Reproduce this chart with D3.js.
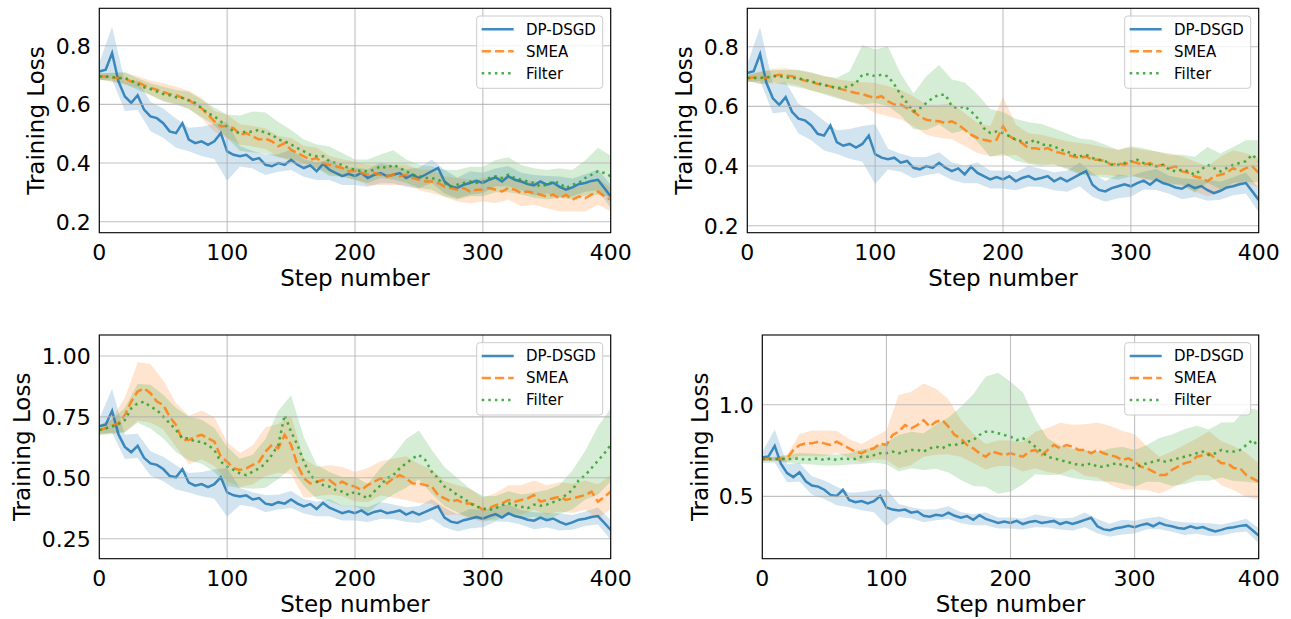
<!DOCTYPE html>
<html><head><meta charset="utf-8">
<script src="https://cdn.jsdelivr.net/npm/d3@7"></script>
<style>body{margin:0;background:#fff}svg{display:block}text{font-family:"DejaVu Sans",sans-serif}</style>
</head><body>
<svg id="chart" width="1291" height="619"></svg>
<script>
// ---------- data (mean every 5 steps, band half-width every 10 steps) ----------
const STEP = 5, BAND_STEP = 10;
const seriesNames = ["DP-DSGD", "SMEA", "Filter"];
const xTicks = [0, 100, 200, 300, 400];

const dpdsgd = [0.712,0.718,0.775,0.678,0.627,0.605,0.631,0.582,0.559,0.553,
 0.536,0.508,0.502,0.536,0.480,0.468,0.474,0.462,0.474,0.502,
 0.440,0.428,0.423,0.428,0.411,0.417,0.394,0.389,0.400,0.394,
 0.411,0.394,0.383,0.392,0.372,0.397,0.377,0.366,0.355,0.363,
 0.355,0.366,0.349,0.360,0.366,0.355,0.360,0.366,0.349,0.360,
 0.349,0.360,0.372,0.383,0.337,0.320,0.315,0.326,0.332,0.339,
 0.332,0.343,0.351,0.337,0.355,0.343,0.337,0.328,0.324,0.337,
 0.326,0.333,0.319,0.309,0.317,0.328,0.332,0.339,0.343,0.315,
 0.286];
const dpdsgdBand = [0.03,0.09,0.05,0.05,0.05,0.05,0.05,0.04,0.05,0.06,
 0.10,0.035,0.03,0.035,0.03,0.035,0.03,0.03,0.035,0.03,
 0.03,0.03,0.035,0.03,0.03,0.035,0.04,0.04,0.035,0.04,
 0.035,0.03,0.035,0.03,0.035,0.03,0.035,0.03,0.03,0.035,0.04];

// Panel 1
const smea1 = [0.695,0.695,0.692,0.690,0.687,0.678,0.676,0.665,0.656,0.650,
 0.642,0.635,0.631,0.622,0.616,0.599,0.587,0.565,0.542,0.525,
 0.525,0.519,0.497,0.502,0.491,0.480,0.483,0.474,0.457,0.468,
 0.445,0.434,0.423,0.411,0.417,0.400,0.394,0.389,0.383,0.372,
 0.374,0.366,0.360,0.366,0.360,0.355,0.360,0.355,0.360,0.349,
 0.343,0.337,0.337,0.332,0.320,0.315,0.309,0.315,0.303,0.309,
 0.309,0.315,0.309,0.303,0.315,0.309,0.298,0.303,0.298,0.292,
 0.286,0.292,0.280,0.292,0.275,0.286,0.280,0.292,0.303,0.286,
 0.275];
const filter1 = [0.695,0.695,0.693,0.690,0.690,0.681,0.669,0.658,0.652,0.644,
 0.635,0.631,0.624,0.622,0.613,0.605,0.587,0.570,0.559,0.542,
 0.525,0.508,0.502,0.508,0.506,0.514,0.502,0.497,0.480,0.474,
 0.463,0.451,0.440,0.428,0.423,0.423,0.406,0.400,0.394,0.383,
 0.377,0.372,0.372,0.377,0.389,0.383,0.394,0.383,0.372,0.360,
 0.355,0.349,0.349,0.343,0.332,0.320,0.326,0.332,0.337,0.332,
 0.337,0.349,0.355,0.349,0.360,0.349,0.343,0.337,0.332,0.320,
 0.326,0.337,0.332,0.315,0.326,0.332,0.349,0.360,0.372,0.366,
 0.355];
const smea1Band = [0.01,0.015,0.02,0.02,0.025,0.03,0.03,0.03,0.035,0.035,
 0.04,0.035,0.035,0.035,0.035,0.04,0.035,0.035,0.03,0.03,
 0.03,0.035,0.035,0.035,0.035,0.035,0.04,0.035,0.04,0.04,
 0.04,0.045,0.04,0.045,0.04,0.04,0.045,0.04,0.045,0.045,0.04];
const filter1Band = [0.01,0.015,0.02,0.02,0.02,0.025,0.025,0.03,0.03,0.03,
 0.04,0.06,0.07,0.07,0.06,0.05,0.04,0.04,0.05,0.04,
 0.035,0.04,0.04,0.05,0.04,0.04,0.04,0.045,0.05,0.05,
 0.05,0.055,0.06,0.05,0.05,0.05,0.05,0.05,0.06,0.08,0.07];

// Panel 2
const smea2 = [0.695,0.697,0.697,0.695,0.701,0.706,0.703,0.701,0.695,0.686,
 0.682,0.675,0.673,0.667,0.661,0.656,0.650,0.645,0.641,0.634,
 0.628,0.634,0.617,0.606,0.606,0.594,0.583,0.566,0.555,0.552,
 0.550,0.544,0.550,0.539,0.522,0.505,0.494,0.488,0.483,0.488,
 0.533,0.500,0.488,0.477,0.460,0.460,0.455,0.460,0.449,0.444,
 0.438,0.432,0.427,0.432,0.421,0.421,0.416,0.404,0.410,0.404,
 0.416,0.410,0.404,0.410,0.399,0.404,0.393,0.399,0.382,0.377,
 0.365,0.360,0.349,0.365,0.371,0.377,0.393,0.382,0.393,0.399,
 0.377];
const filter2 = [0.695,0.695,0.695,0.697,0.701,0.701,0.697,0.695,0.693,0.690,
 0.684,0.678,0.671,0.667,0.661,0.663,0.667,0.678,0.706,0.708,
 0.701,0.706,0.701,0.673,0.639,0.611,0.583,0.594,0.611,0.628,
 0.639,0.639,0.600,0.594,0.600,0.583,0.561,0.527,0.511,0.516,
 0.511,0.500,0.488,0.483,0.477,0.488,0.471,0.471,0.466,0.455,
 0.449,0.438,0.432,0.438,0.427,0.421,0.416,0.404,0.404,0.410,
 0.416,0.421,0.410,0.404,0.399,0.404,0.388,0.382,0.388,0.382,
 0.371,0.388,0.404,0.393,0.382,0.393,0.404,0.410,0.416,0.438,
 0.416];
const smea2Band = [0.01,0.02,0.025,0.025,0.025,0.03,0.03,0.03,0.035,0.04,
 0.05,0.05,0.05,0.05,0.05,0.055,0.06,0.055,0.05,0.05,
 0.1,0.05,0.05,0.05,0.045,0.045,0.05,0.05,0.045,0.045,
 0.045,0.05,0.05,0.05,0.05,0.05,0.05,0.06,0.06,0.05,0.05];
const filter2Band = [0.01,0.02,0.02,0.025,0.03,0.03,0.03,0.035,0.05,0.1,
 0.09,0.1,0.07,0.06,0.09,0.1,0.09,0.08,0.08,0.08,
 0.07,0.07,0.07,0.07,0.06,0.06,0.06,0.06,0.055,0.05,
 0.05,0.05,0.05,0.05,0.05,0.06,0.06,0.06,0.06,0.07,0.07];

// Panel 3
const smea3 = [0.696,0.703,0.714,0.724,0.758,0.813,0.854,0.867,0.847,0.813,
 0.799,0.751,0.717,0.655,0.655,0.669,0.676,0.662,0.648,0.587,
 0.566,0.539,0.532,0.539,0.553,0.566,0.607,0.635,0.621,0.676,
 0.635,0.553,0.498,0.477,0.484,0.491,0.491,0.470,0.484,0.470,
 0.464,0.450,0.470,0.484,0.498,0.477,0.498,0.511,0.498,0.477,
 0.477,0.470,0.464,0.429,0.416,0.402,0.409,0.395,0.395,0.388,
 0.368,0.375,0.388,0.395,0.409,0.402,0.409,0.416,0.429,0.402,
 0.409,0.416,0.422,0.409,0.416,0.422,0.429,0.443,0.402,0.422,
 0.443];
const filter3 = [0.696,0.703,0.710,0.720,0.737,0.785,0.806,0.812,0.792,0.778,
 0.751,0.724,0.696,0.662,0.662,0.648,0.648,0.635,0.614,0.566,
 0.546,0.532,0.518,0.511,0.525,0.539,0.559,0.594,0.635,0.758,
 0.689,0.635,0.566,0.511,0.484,0.470,0.464,0.450,0.443,0.429,
 0.443,0.429,0.416,0.443,0.470,0.498,0.511,0.539,0.559,0.580,
 0.594,0.573,0.525,0.498,0.464,0.450,0.429,0.416,0.395,0.381,
 0.375,0.368,0.375,0.388,0.395,0.388,0.381,0.375,0.390,0.385,
 0.390,0.400,0.410,0.430,0.450,0.490,0.510,0.540,0.570,0.600,
 0.635];
const smea3Band = [0.02,0.03,0.07,0.12,0.12,0.1,0.09,0.1,0.1,0.1,
 0.08,0.07,0.08,0.1,0.1,0.12,0.08,0.06,0.06,0.06,
 0.06,0.07,0.07,0.08,0.09,0.08,0.07,0.07,0.06,0.06,
 0.05,0.05,0.06,0.06,0.06,0.06,0.06,0.06,0.06,0.07,0.07];
const filter3Band = [0.02,0.03,0.05,0.08,0.09,0.09,0.09,0.09,0.09,0.09,
 0.08,0.06,0.07,0.1,0.14,0.15,0.1,0.07,0.06,0.06,
 0.06,0.06,0.07,0.08,0.1,0.1,0.09,0.08,0.07,0.06,
 0.05,0.05,0.05,0.05,0.05,0.06,0.06,0.08,0.1,0.14,0.15];

// Panel 4
const smea4 = [0.704,0.704,0.704,0.704,0.707,0.753,0.780,0.789,0.789,0.798,
 0.789,0.780,0.798,0.780,0.762,0.744,0.735,0.753,0.762,0.789,
 0.780,0.835,0.853,0.889,0.871,0.889,0.916,0.880,0.907,0.916,
 0.880,0.835,0.816,0.780,0.762,0.735,0.716,0.744,0.735,0.725,
 0.735,0.725,0.716,0.744,0.753,0.725,0.753,0.780,0.762,0.780,
 0.771,0.753,0.753,0.735,0.753,0.735,0.725,0.716,0.698,0.707,
 0.689,0.662,0.653,0.635,0.616,0.616,0.644,0.662,0.680,0.689,
 0.716,0.725,0.735,0.707,0.680,0.680,0.653,0.653,0.616,0.598,
 0.580];
const filter4 = [0.704,0.704,0.704,0.704,0.704,0.704,0.707,0.698,0.704,0.707,
 0.698,0.707,0.698,0.707,0.704,0.704,0.716,0.716,0.725,0.735,
 0.735,0.744,0.735,0.744,0.753,0.753,0.744,0.762,0.771,0.762,
 0.780,0.780,0.789,0.798,0.807,0.835,0.853,0.853,0.844,0.835,
 0.825,0.807,0.816,0.798,0.771,0.744,0.716,0.707,0.698,0.689,
 0.680,0.671,0.671,0.680,0.662,0.662,0.671,0.680,0.671,0.662,
 0.653,0.671,0.680,0.689,0.698,0.689,0.698,0.707,0.716,0.725,
 0.735,0.744,0.725,0.735,0.753,0.744,0.744,0.753,0.780,0.807,
 0.771];
const smea4Band = [0.01,0.01,0.02,0.06,0.07,0.07,0.06,0.05,0.05,0.06,
 0.08,0.2,0.2,0.2,0.18,0.15,0.1,0.08,0.07,0.07,
 0.07,0.08,0.1,0.12,0.14,0.12,0.14,0.15,0.16,0.16,
 0.15,0.12,0.1,0.1,0.1,0.1,0.12,0.12,0.12,0.12,0.1];
const filter4Band = [0.01,0.01,0.02,0.03,0.03,0.03,0.03,0.03,0.04,0.04,
 0.06,0.1,0.1,0.1,0.12,0.15,0.2,0.25,0.3,0.33,
 0.3,0.25,0.15,0.1,0.08,0.08,0.08,0.08,0.09,0.1,
 0.1,0.1,0.12,0.14,0.15,0.15,0.14,0.15,0.16,0.2,0.2];

const yTicks1 = [0.2, 0.4, 0.6, 0.8];
const yTicks3 = [0.25, 0.50, 0.75, 1.00];
const yTicks4 = [0.5, 1.0];

// ---------- layout ----------
const colors = ["#1f77b4", "#ff7f0e", "#2ca02c"];
const dashes = [null, "9.25,4", "2.5,4.1"];
const panels = [
  {means:[dpdsgd,smea1,filter1], bands:[dpdsgdBand,smea1Band,filter1Band], y:[0.1625,0.9275], ticks:yTicks1, fmt:".1f",
   box:{l:99.3,r:610.7,t:8.3,b:232.7}, ylabX:36},
  {means:[dpdsgd,smea2,filter2], bands:[dpdsgdBand,smea2Band,filter2Band], y:[0.1765,0.9287], ticks:yTicks1, fmt:".1f",
   box:{l:747.3,r:1258.7,t:8.3,b:232.7}, ylabX:684},
  {means:[dpdsgd,smea3,filter3], bands:[dpdsgdBand,smea3Band,filter3Band], y:[0.168,1.086], ticks:yTicks3, fmt:".2f",
   box:{l:99.3,r:610.7,t:335,b:558.7}, ylabX:22},
  {means:[dpdsgd,smea4,filter4], bands:[dpdsgdBand,smea4Band,filter4Band], y:[0.160,1.380], ticks:yTicks4, fmt:".1f",
   box:{l:762.3,r:1258.7,t:335,b:558.7}, ylabX:700}
];

const svg = d3.select("#chart");
const defs = svg.append("defs");

panels.forEach((p, pi) => {
  const B = p.box;
  const x = d3.scaleLinear().domain([0, 400]).range([B.l, B.r]);
  const y = d3.scaleLinear().domain(p.y).range([B.b, B.t]);
  const g = svg.append("g");
  const clipId = "clip" + pi;
  defs.append("clipPath").attr("id", clipId).append("rect")
    .attr("x", B.l).attr("y", B.t).attr("width", B.r - B.l).attr("height", B.b - B.t);
  const plot = g.append("g").attr("clip-path", `url(#${clipId})`);

  // bands (below grid & lines)
  p.bands.forEach((band, si) => {
    const mean = p.means[si];
    const pts = band.map((hw, i) => {
      const s = i * BAND_STEP;
      const m = mean[s / STEP];
      return {s, lo: m - hw, hi: m + hw};
    });
    plot.append("path").datum(pts)
      .attr("d", d3.area().x(d => x(d.s)).y0(d => y(d.lo)).y1(d => y(d.hi)))
      .attr("fill", colors[si]).attr("fill-opacity", 0.2).attr("stroke", "none");
  });

  // grid
  const grid = g.append("g");
  xTicks.forEach(t => grid.append("line").attr("x1", x(t)).attr("x2", x(t)).attr("y1", B.t).attr("y2", B.b)
    .attr("stroke", "#b0b0b0").attr("stroke-width", 1.1).attr("stroke-opacity", 0.8));
  p.ticks.forEach(t => grid.append("line").attr("x1", B.l).attr("x2", B.r).attr("y1", y(t)).attr("y2", y(t))
    .attr("stroke", "#b0b0b0").attr("stroke-width", 1.1).attr("stroke-opacity", 0.8));

  // lines
  p.means.forEach((mean, si) => {
    plot.append("path").datum(mean)
      .attr("d", d3.line().x((d, i) => x(i * STEP)).y(d => y(d)))
      .attr("fill", "none").attr("stroke", colors[si]).attr("stroke-width", 2.5)
      .attr("stroke-opacity", 0.85)
      .attr("stroke-dasharray", dashes[si]);
  });

  // spines
  g.append("rect").attr("x", B.l).attr("y", B.t).attr("width", B.r - B.l).attr("height", B.b - B.t)
    .attr("fill", "none").attr("stroke", "#000").attr("stroke-width", 1.1);

  // tick labels
  xTicks.forEach(t => g.append("text").attr("x", x(t)).attr("y", B.b + 27.5)
    .attr("text-anchor", "middle").attr("font-size", 22).attr("fill", "#000").text(t));
  const f = d3.format(p.fmt);
  p.ticks.forEach(t => g.append("text").attr("x", B.l - 8.6).attr("y", y(t) + 8)
    .attr("text-anchor", "end").attr("font-size", 22).attr("fill", "#000").text(f(t)));

  // axis labels
  g.append("text").attr("x", (B.l + B.r) / 2).attr("y", B.b + 53)
    .attr("text-anchor", "middle").attr("font-size", 23).attr("fill", "#000").text("Step number");
  g.append("text").attr("transform", `translate(${p.ylabX},${(B.t + B.b) / 2}) rotate(-90)`)
    .attr("text-anchor", "middle").attr("dominant-baseline", "central")
    .attr("font-size", 23).attr("fill", "#000").text("Training Loss");

  // legend
  const lx = B.r - 8 - 126, ly = B.t + 7.7;
  const lg = g.append("g");
  lg.append("rect").attr("x", lx).attr("y", ly).attr("width", 126).attr("height", 72.3).attr("rx", 3)
    .attr("fill", "#fff").attr("fill-opacity", 0.8).attr("stroke", "#cccccc").attr("stroke-width", 1);
  seriesNames.forEach((name, si) => {
    const cy = ly + 13.3 + si * 22;
    lg.append("line").attr("x1", lx + 5).attr("x2", lx + 37).attr("y1", cy).attr("y2", cy)
      .attr("stroke", colors[si]).attr("stroke-width", 2.5).attr("stroke-opacity", 0.85)
      .attr("stroke-dasharray", dashes[si]);
    lg.append("text").attr("x", lx + 49.3).attr("y", cy + 5.3).attr("font-size", 15).attr("fill", "#000").text(name);
  });
});
</script>
</body></html>
